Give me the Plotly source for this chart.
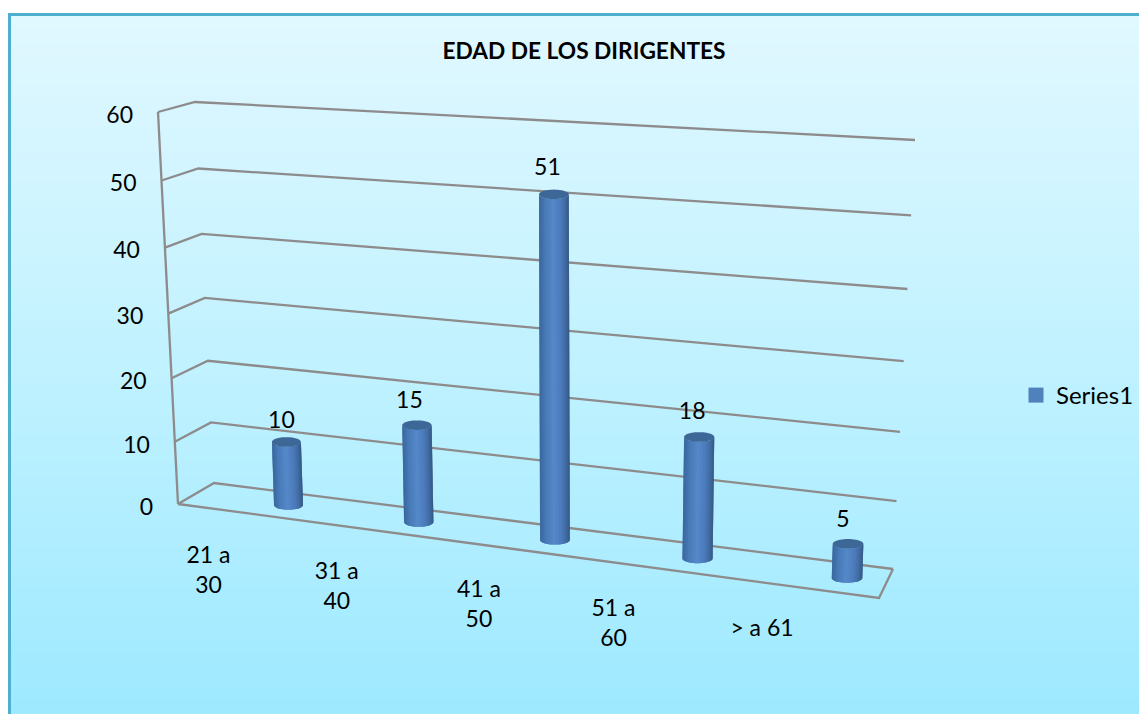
import numpy as np
import plotly.graph_objects as go

# ---- data ----
TITLE = "EDAD DE LOS DIRIGENTES"
SERIES_NAME = "Series1"
categories = ["21 a<br>30", "31 a<br>40", "41 a<br>50", "51 a<br>60", "> a 61"]
values = [10, 15, 51, 18, 5]
y_ticks = [0, 10, 20, 30, 40, 50, 60]

# ---- layout constants (window pixels of the 3D look) ----
W, H = 1147, 714
PAGE = 8          # the page's own body margin
FONT = "Lato"
YMAX = y_ticks[-1]
BACK_WALL = [(214, 483), (893, 569), (915, 140), (195, 102)]   # s,v: (0,0) (1,0) (1,1) (0,1)
SIDE_WALL = [(178, 504), (214, 483), (195, 102), (158, 112)]   # d,v
BAR_PLANE = [(288.5, 505), (847, 578), (860, 150), (275.5, 113)]   # i/4,v
FLOOR_FRONT = [(214, 483), (178, 504), (879, 598), (893, 569)]
LINE = "#8d8b8b"
WARP = 0.045      # extra foreshortening of the value scale at the left of the walls


def homography(c):
    (x0, y0), (x1, y1), (x2, y2), (x3, y3) = c
    dx1, dx2, dx3 = x1 - x2, x3 - x2, x0 - x1 + x2 - x3
    dy1, dy2, dy3 = y1 - y2, y3 - y2, y0 - y1 + y2 - y3
    den = dx1 * dy2 - dx2 * dy1
    g = (dx3 * dy2 - dx2 * dy3) / den
    h = (dx1 * dy3 - dx3 * dy1) / den
    a, b, cc = x1 - x0 + g * x1, x3 - x0 + h * x3, x0
    d, e, f = y1 - y0 + g * y1, y3 - y0 + h * y3, y0

    def proj(u, v):
        w = g * u + h * v + 1
        return (a * u + b * v + cc) / w, (d * u + e * v + f) / w
    return proj


back = homography(BACK_WALL)
_side = homography(SIDE_WALL)
plane = homography(BAR_PLANE)


def warp(v):
    return v * (1 - WARP * (1 - v))


def side(d, v):
    return _side(d, warp(v))


fig = go.Figure()

# panel background gradient
edges = np.linspace(14, H + 10, 141)
mid = (edges[:-1] + edges[1:]) / 2
fig.add_trace(go.Heatmap(
    x=[9, W + 10], y=edges, z=[[m, ] for m in mid], zmin=15, zmax=H,
    colorscale=[[0, "#e1f8ff"], [0.55, "#bdf1ff"], [1, "#9ee9ff"]],
    showscale=False, hoverinfo="skip"))

# gridlines on back and side wall, front floor edge
gx, gy = [], []
for t in y_ticks:
    p0 = side(0, t / YMAX)
    p1 = side(1, t / YMAX)
    p2 = back(1, t / YMAX)
    gx += [p0[0], p1[0], p2[0], None]
    gy += [p0[1], p1[1], p2[1], None]
f0, f1 = side(0, 0), side(0, 1)
gx += [f0[0], f1[0], None] + [p[0] for p in FLOOR_FRONT[1:]]
gy += [f0[1], f1[1], None] + [p[1] for p in FLOOR_FRONT[1:]]
fig.add_trace(go.Scatter(x=gx, y=gy, mode="lines", line=dict(color=LINE, width=2.3),
                         showlegend=False, hoverinfo="skip"))


# cylinders: narrow shaded strips from left to right, each just overlapping the next
def shade(p):
    stops = [(-1.0, (58, 103, 157)), (-0.6, (72, 122, 183)), (-0.05, (86, 137, 202)),
             (0.45, (76, 123, 187)), (0.8, (63, 104, 158)), (1.0, (52, 88, 132))]
    xs = [s[0] for s in stops]
    rgb = [np.interp(p, xs, [s[1][k] for s in stops]) for k in range(3)]
    return "rgb(%d,%d,%d)" % tuple(rgb)


N = 22
angles = np.linspace(np.pi, 0, N + 1)
n_cat = len(categories)
geo = []
for i, v in enumerate(values):
    s = i / (n_cat - 1)
    geo.append((plane(s, 0), plane(s, v / YMAX), 14.5 + 0.8 * s))

for k in range(N):
    px, py = [], []
    ts = angles[k:k + 3]
    for (base, top, r) in geo:
        px += list(top[0] + r * np.cos(ts)) + list(base[0] + r * np.cos(ts[::-1])) + [None]
        py += list(top[1] + 4.8 * np.sin(ts)) + list(base[1] + 4.8 * np.sin(ts[::-1])) + [None]
    fig.add_trace(go.Scatter(x=px, y=py, mode="lines", fill="toself",
                             fillcolor=shade(np.cos((angles[k] + angles[k + 1]) / 2)),
                             line=dict(width=0, simplify=False), showlegend=False, hoverinfo="skip"))

# top caps
ell = np.linspace(0, 2 * np.pi, 49)
cx, cy = [], []
for (base, top, r) in geo:
    cx += list(top[0] + r * np.cos(ell)) + [None]
    cy += list(top[1] + 4.8 * np.sin(ell)) + [None]
fig.add_trace(go.Scatter(x=cx, y=cy, mode="lines", fill="toself", fillcolor="#3d6796",
                         line=dict(width=0, simplify=False), showlegend=False, hoverinfo="skip"))

# data labels
LABEL_DX = [-5, -7.5, -6.5, -7, -5]
LABEL_DY = [-20, -23, -25, -24, -23]
fig.add_trace(go.Scatter(
    x=[g[1][0] + d for g, d in zip(geo, LABEL_DX)],
    y=[g[1][1] + d for g, d in zip(geo, LABEL_DY)],
    text=[str(v) for v in values], mode="text", textposition="middle center",
    textfont=dict(family=FONT, size=23, color="#000"), showlegend=False, hoverinfo="skip"))

# value-axis labels
tick_pts = [side(0, t / YMAX) for t in y_ticks]
fig.add_trace(go.Scatter(
    x=[p[0] - 25 for p in tick_pts], y=[p[1] + 5 for p in tick_pts],
    text=[str(t) for t in y_ticks], mode="text", textposition="middle left",
    textfont=dict(family=FONT, size=23, color="#000"), showlegend=False, hoverinfo="skip"))

# category labels
CAT_DX = [-80, -82, -76, -84, -85]
CAT_DY = [67, 66, 66, 67, 52]
fig.add_trace(go.Scatter(
    x=[g[0][0] + d for g, d in zip(geo, CAT_DX)],
    y=[g[0][1] + d for g, d in zip(geo, CAT_DY)],
    text=categories, mode="text", textposition="middle center",
    textfont=dict(family=FONT, size=23, color="#000"), showlegend=False, hoverinfo="skip"))

# legend entry
fig.add_trace(go.Scatter(x=[None], y=[None], mode="markers", name=SERIES_NAME,
                         marker=dict(symbol="square", size=15, color="#4f81bd")))

fig.update_layout(
    width=W, height=H, autosize=False,
    margin=dict(l=0, r=0, t=0, b=0),
    paper_bgcolor="white", plot_bgcolor="white",
    title=dict(text="<b>%s</b>" % TITLE, x=(584 - PAGE) / W, y=1 - (51 - PAGE) / H,
               xanchor="center", yanchor="middle",
               font=dict(family=FONT, size=22.7, color="#000")),
    xaxis=dict(range=[PAGE, W + PAGE], visible=False, fixedrange=True),
    yaxis=dict(range=[H + PAGE, PAGE], visible=False, fixedrange=True),
    legend=dict(x=(1016 - PAGE) / W, y=1 - (395.5 - PAGE) / H, xanchor="left", yanchor="middle",
                bgcolor="rgba(0,0,0,0)", font=dict(family=FONT, size=24, color="#000")),
    shapes=[dict(type="rect", xref="x", yref="y", x0=9.5, y0=14.5, x1=W + 30, y1=H + 30,
                 line=dict(color="#4eb0cc", width=3), layer="above")],
)
fig.write_html("out.html", config=dict(displayModeBar=False))
